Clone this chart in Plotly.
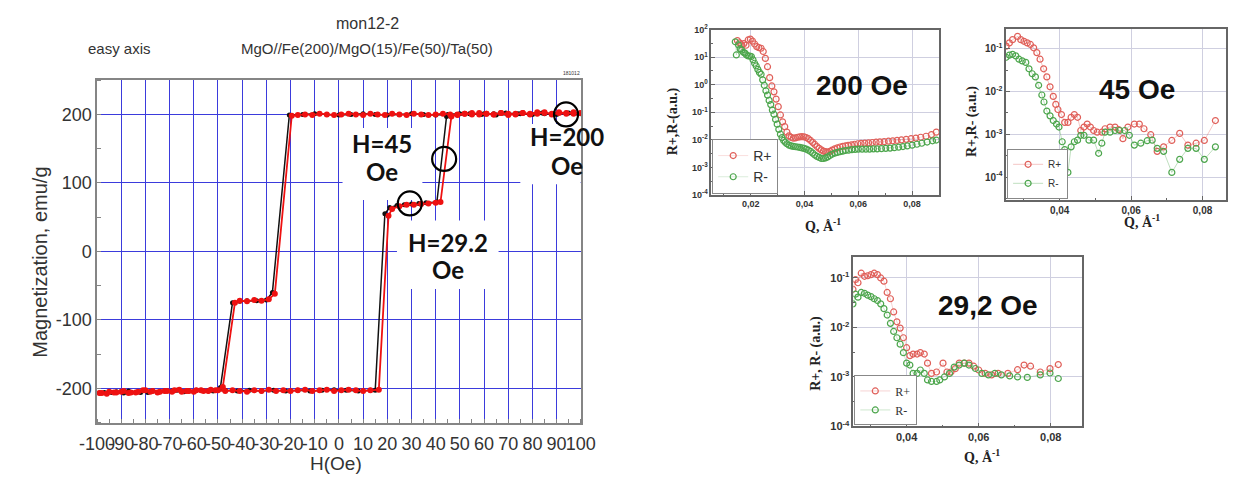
import plotly.graph_objects as go

# page size and the browser's default 8px body margin
PAGE_W, PAGE_H = 1245, 483
OFF = 8
W, H = PAGE_W - OFF, PAGE_H - OFF

# ---------------- Hysteresis loop data (left panel) ----------------
H_red_down = [100, 97, 94, 91, 88, 85, 82, 79, 76, 73, 70, 67, 64, 61, 58, 55, 52, 49, 46, 43,
              40, 37, 34, 31, 28, 25, 22, 19, 16, 13, 10, 7, 4, 1, -2, -5, -8, -11, -14, -17,
              -19.5, -26.5, -29, -32, -35, -38, -41, -43, -48, -51, -54, -57, -60, -63, -66, -69,
              -72, -75, -78, -81, -84, -87, -90, -93, -96, -99]
M_red_down = [202, 203, 201, 202, 200, 203, 201, 200, 202, 201, 199, 202, 200, 201, 200, 202, 201, 199, 200, 201,
              200, 199, 200, 201, 199, 200, 201, 199, 200, 201, 199, 200, 201, 200, 199, 200, 201, 199, 200, 199,
              198, -62, -70, -72, -71, -73, -72, -75, -198, -203, -204, -203, -205, -204, -202, -205,
              -204, -206, -205, -203, -206, -207, -205, -206, -208, -207]
H_red_up = [-98, -95, -92, -89, -86, -83, -80, -77, -74, -71, -68, -65, -62, -59, -56, -53, -50, -47, -44, -41,
            -38, -35, -32, -29, -26, -23, -20, -17, -14, -11, -8, -5, -2, 1, 4, 7, 10, 13, 16.5, 20.5,
            22, 25, 28, 31, 34, 37, 40, 42, 46.5, 49, 52, 55, 58, 61, 64, 67, 70, 73, 76, 79,
            82, 85, 88, 91, 94, 97, 100]
M_red_up = [-207, -205, -206, -204, -206, -205, -203, -204, -205, -204, -203, -205, -204, -203, -204, -202, -203, -204, -203, -204,
            -205, -203, -204, -202, -204, -203, -204, -203, -202, -204, -203, -202, -204, -203, -202, -203, -204, -203, -202, 52,
            62, 66, 68, 68, 69, 70, 71, 72, 197, 200, 201, 200, 202, 201, 200, 202, 201, 200, 202, 201,
            203, 202, 201, 203, 202, 201, 202]

H_blk_down = [100, 95, 90, 85, 80, 75, 70, 65, 60, 55, 50, 45, 40, 35, 30, 25, 20, 15, 10, 5, 0, -5, -10, -15,
              -20.5, -27.5, -30, -34, -38, -41, -44, -49, -54, -59, -64, -69, -74, -79, -84, -89, -94, -99]
M_blk_down = [201, 202, 200, 201, 200, 201, 200, 199, 201, 200, 201, 200, 199, 200, 201, 200, 199, 200, 201, 200, 199, 200, 201, 200,
              199, -60, -71, -72, -72, -73, -75, -199, -204, -203, -205, -204, -205, -206, -206, -207, -206, -207]
H_blk_up = [-97, -92, -87, -82, -77, -72, -67, -62, -57, -52, -47, -42, -37, -32, -27, -22, -17, -12, -7, -2, 3, 8, 13, 15,
            19, 21, 24, 27, 30, 33, 36, 40.5, 44.5, 49, 54, 59, 64, 69, 74, 79, 84, 89, 94, 99]
M_blk_up = [-206, -205, -204, -206, -204, -204, -203, -204, -203, -204, -203, -204, -203, -204, -203, -204, -203, -204, -203, -202, -203, -204, -203, -203,
            55, 64, 67, 68, 69, 70, 71, 72, 197, 200, 201, 200, 201, 202, 201, 200, 202, 201, 202, 201]

circle_H = [29.3, 43.5, 93.9]
circle_M = [70, 135, 200]

H_ticks = [-100, -90, -80, -70, -60, -50, -40, -30, -20, -10, 0, 10, 20, 30, 40, 50, 60, 70, 80, 90, 100]
M_ticks = [-200, -100, 0, 100, 200]

# ---------------- Reflectivity data ----------------
# 200 Oe
q200_p = [0.0150, 0.0158, 0.0166, 0.0174, 0.0182, 0.0190, 0.0198, 0.0206, 0.0214, 0.0222, 0.0230, 0.0238,
          0.0246, 0.0254, 0.0262, 0.0270, 0.0278, 0.0286, 0.0294, 0.0302, 0.0310, 0.0318, 0.0326, 0.0334,
          0.0342, 0.0350, 0.0358, 0.0366, 0.0374, 0.0382, 0.0390, 0.0398, 0.0406, 0.0414, 0.0422, 0.0430,
          0.0438, 0.0446, 0.0454, 0.0462, 0.0470, 0.0478, 0.0486, 0.0494, 0.0502, 0.0512, 0.0522, 0.0532,
          0.0542, 0.0552, 0.0562, 0.0574, 0.0586, 0.0598, 0.0610, 0.0624, 0.0638, 0.0652, 0.0666, 0.0680,
          0.0696, 0.0712, 0.0728, 0.0744, 0.0760, 0.0778, 0.0796, 0.0814, 0.0832, 0.0852, 0.0872, 0.0890]
r200_p = [40, 33, 28, 31, 27, 42, 45, 38, 30, 24, 22, 21,
          16, 9, 4.5, 1.8, 0.9, 0.55, 0.3, 0.16, 0.08, 0.045, 0.03, 0.019,
          0.014, 0.0122, 0.0115, 0.0118, 0.0124, 0.0128, 0.013, 0.0128, 0.0121, 0.011, 0.0095, 0.0081,
          0.0068, 0.0057, 0.0049, 0.0043, 0.0039, 0.0037, 0.0036, 0.0038, 0.0042, 0.0047, 0.0051, 0.0055,
          0.0058, 0.006, 0.0063, 0.0066, 0.0069, 0.0072, 0.0074, 0.0076, 0.0078, 0.008, 0.0082, 0.0084,
          0.0086, 0.0089, 0.0092, 0.0095, 0.0099, 0.0104, 0.011, 0.0116, 0.0124, 0.0135, 0.0155, 0.019]
q200_m = [0.0142, 0.0146, 0.0154, 0.0160, 0.0166, 0.0172, 0.0178, 0.0184, 0.0190, 0.0196, 0.0202, 0.0208,
          0.0214, 0.0220, 0.0226, 0.0232, 0.0238, 0.0244, 0.0250, 0.0256, 0.0262, 0.0268, 0.0274, 0.0280,
          0.0286, 0.0292, 0.0298, 0.0304, 0.0310, 0.0316, 0.0322, 0.0328, 0.0334, 0.0342, 0.0350, 0.0358,
          0.0366, 0.0374, 0.0382, 0.0390, 0.0398, 0.0406, 0.0414, 0.0422, 0.0430, 0.0438, 0.0446, 0.0454,
          0.0462, 0.0470, 0.0478, 0.0486, 0.0494, 0.0502, 0.0512, 0.0522, 0.0532, 0.0542, 0.0552, 0.0564,
          0.0576, 0.0588, 0.0600, 0.0614, 0.0628, 0.0642, 0.0656, 0.0670, 0.0686, 0.0702, 0.0718, 0.0734,
          0.0750, 0.0766, 0.0782, 0.0800, 0.0818, 0.0836, 0.0856, 0.0876, 0.0890]
r200_m = [36, 12, 28, 20, 18, 15, 14, 12, 11, 11, 10.5, 8,
          6, 4.8, 3.6, 2.8, 2.4, 1.5, 0.95, 0.6, 0.42, 0.27, 0.19, 0.12,
          0.085, 0.055, 0.037, 0.024, 0.016, 0.012, 0.0095, 0.0082, 0.0072, 0.0064, 0.006, 0.0058,
          0.0056, 0.0055, 0.0053, 0.0051, 0.0049, 0.0046, 0.0042, 0.0038, 0.0033, 0.0028, 0.0025, 0.0023,
          0.0021, 0.0021, 0.0022, 0.0024, 0.0027, 0.003, 0.0033, 0.0035, 0.0037, 0.0039, 0.0041, 0.0042,
          0.0044, 0.0045, 0.0046, 0.0046, 0.0046, 0.0046, 0.0047, 0.0047, 0.0048, 0.0049, 0.005, 0.0052,
          0.0054, 0.0057, 0.006, 0.0064, 0.0069, 0.0075, 0.0083, 0.0092, 0.0098]

# 45 Oe
q45_p = [0.0250, 0.0259, 0.0268, 0.0282, 0.0291, 0.0300, 0.0309, 0.0318, 0.0327, 0.0336, 0.0345, 0.0355,
         0.0364, 0.0373, 0.0382, 0.0389, 0.0395, 0.0405, 0.0414, 0.0423, 0.0432, 0.0441, 0.0450, 0.0459,
         0.0468, 0.0477, 0.0486, 0.0495, 0.0505, 0.0518, 0.0527, 0.0541, 0.0555, 0.0565, 0.0577, 0.0591,
         0.0609, 0.0623, 0.0636, 0.0655, 0.0673, 0.0691, 0.0714, 0.0736, 0.0759, 0.0782, 0.0805, 0.0836]
r45_p = [0.115, 0.137, 0.163, 0.194, 0.163, 0.149, 0.137, 0.126, 0.105, 0.081, 0.057, 0.034,
         0.022, 0.0129, 0.0077, 0.005, 0.0038, 0.0029, 0.0019, 0.0019, 0.0025, 0.0029, 0.0025, 0.00123,
         0.00148, 0.00174, 0.00148, 0.00123, 0.00112, 0.00112, 0.00135, 0.00148, 0.00148, 0.00129, 0.00079, 0.00148,
         0.00174, 0.00174, 0.00135, 0.00098, 0.0004, 0.00051, 0.00072, 0.00105, 0.00056, 0.00062, 0.00072, 0.0021]
q45_m = [0.0250, 0.0259, 0.0268, 0.0277, 0.0286, 0.0295, 0.0305, 0.0314, 0.0323, 0.0332, 0.0341, 0.0350,
         0.0356, 0.0364, 0.0373, 0.0382, 0.0391, 0.0398, 0.0407, 0.0414, 0.0423, 0.0432, 0.0441, 0.0450,
         0.0459, 0.0468, 0.0482, 0.0495, 0.0509, 0.0518, 0.0527, 0.0541, 0.0555, 0.0568, 0.0582, 0.0595,
         0.0609, 0.0627, 0.0645, 0.0659, 0.0673, 0.0691, 0.0714, 0.0736, 0.0759, 0.0782, 0.0805, 0.0836]
r45_m = [0.063, 0.071, 0.074, 0.068, 0.057, 0.052, 0.048, 0.034, 0.026, 0.022, 0.014, 0.0083,
         0.0057, 0.0035, 0.0027, 0.0021, 0.00174, 0.00148, 0.00067, 0.00044, 0.000129, 0.00051, 0.00067, 0.00073,
         0.00095, 0.00095, 0.00073, 0.00073, 0.00036, 0.00062, 0.00112, 0.00112, 0.00123, 0.00123, 0.00123, 0.00095,
         0.00056, 0.00062, 0.00071, 0.00073, 0.00047, 0.0004, 0.000129, 0.00026, 0.00047, 0.00047, 0.00026, 0.00051]

# 29,2 Oe
q29_p = [0.0251, 0.0258, 0.0265, 0.0274, 0.0283, 0.0292, 0.0301, 0.0310, 0.0319, 0.0328, 0.0337, 0.0346,
         0.0355, 0.0364, 0.0373, 0.0382, 0.0391, 0.0400, 0.0409, 0.0418, 0.0429, 0.0438, 0.0449, 0.0458,
         0.0469, 0.0483, 0.0501, 0.0512, 0.0523, 0.0535, 0.0546, 0.0560, 0.0573, 0.0586, 0.0600, 0.0618,
         0.0636, 0.0654, 0.0681, 0.0708, 0.0726, 0.0744, 0.0771, 0.0798, 0.0821]
r29_p = [0.059, 0.093, 0.080, 0.125, 0.108, 0.111, 0.117, 0.125, 0.117, 0.100, 0.086, 0.051,
         0.038, 0.0206, 0.013, 0.0097, 0.0062, 0.0039, 0.0027, 0.0029, 0.0029, 0.0031, 0.0029, 0.0019,
         0.00118, 0.00126, 0.0019, 0.00126, 0.00126, 0.00147, 0.0019, 0.0019, 0.0019, 0.00165, 0.00138, 0.00118,
         0.0011, 0.00118, 0.00118, 0.0014, 0.00174, 0.00165, 0.00126, 0.00147, 0.00178]
q29_m = [0.0251, 0.0258, 0.0265, 0.0274, 0.0283, 0.0292, 0.0301, 0.0310, 0.0319, 0.0328, 0.0337, 0.0346,
         0.0355, 0.0364, 0.0373, 0.0382, 0.0391, 0.0400, 0.0409, 0.0418, 0.0429, 0.0438, 0.0449, 0.0458,
         0.0469, 0.0483, 0.0492, 0.0505, 0.0519, 0.0532, 0.0546, 0.0560, 0.0573, 0.0591, 0.0609, 0.0627,
         0.0645, 0.0663, 0.0686, 0.0708, 0.0735, 0.0771, 0.0798, 0.0821]
r29_m = [0.030, 0.047, 0.041, 0.051, 0.049, 0.045, 0.042, 0.038, 0.035, 0.030, 0.024, 0.0178,
         0.0121, 0.0083, 0.0062, 0.0046, 0.0031, 0.0019, 0.00174, 0.00118, 0.00118, 0.00138, 0.00118, 0.00087,
         0.00081, 0.00081, 0.00087, 0.0010, 0.00118, 0.00158, 0.00174, 0.0019, 0.00174, 0.00148, 0.00118, 0.0011,
         0.00118, 0.0011, 0.00105, 0.0010, 0.00098, 0.0011, 0.0012, 0.00093]

# ---------------- Figure ----------------
def px(x):
    return (x - OFF) / W

def py(y):
    return 1 - (y - OFF) / H

fig = go.Figure()

# left panel
fig.add_trace(go.Scatter(x=H_blk_down + H_blk_up, y=M_blk_down + M_blk_up, mode="lines+markers",
                         line=dict(color="#111111", width=1.5), marker=dict(color="#111111", size=5),
                         showlegend=False, xaxis="x", yaxis="y"))
fig.add_trace(go.Scatter(x=H_red_down + H_red_up, y=M_red_down + M_red_up, mode="lines+markers",
                         line=dict(color="#ee1111", width=1.8), marker=dict(color="#ee1111", size=6),
                         showlegend=False, xaxis="x", yaxis="y"))
fig.add_trace(go.Scatter(x=circle_H, y=circle_M, mode="markers",
                         marker=dict(symbol="circle-open", size=24, color="black", line=dict(width=2.2)),
                         showlegend=False, xaxis="x", yaxis="y"))

RED = "#e0605a"
GRN = "#4da64d"

def add_refl(q_p, r_p, q_m, r_m, ax, leg, msize, lcol_p, lcol_m):
    fig.add_trace(go.Scatter(x=q_p, y=r_p, mode="lines+markers", name="R+",
                             line=dict(color=lcol_p, width=0.8),
                             marker=dict(symbol="circle-open", size=msize, color=RED, line=dict(width=1.2)),
                             xaxis="x" + ax, yaxis="y" + ax, legend=leg))
    fig.add_trace(go.Scatter(x=q_m, y=r_m, mode="lines+markers", name="R-",
                             line=dict(color=lcol_m, width=0.8),
                             marker=dict(symbol="circle-open", size=msize, color=GRN, line=dict(width=1.2)),
                             xaxis="x" + ax, yaxis="y" + ax, legend=leg))

add_refl(q200_p, r200_p, q200_m, r200_m, "2", "legend", 6, "rgba(224,96,90,0.25)", "rgba(77,166,77,0.25)")
add_refl(q45_p, r45_p, q45_m, r45_m, "3", "legend2", 6, "rgba(224,96,90,0.45)", "rgba(77,166,77,0.45)")
add_refl(q29_p, r29_p, q29_m, r29_m, "4", "legend3", 6, "rgba(224,96,90,0.35)", "rgba(77,166,77,0.35)")

SANS = "Liberation Sans, Arial, sans-serif"
SERIF = "Liberation Serif, Times New Roman, serif"

# left axes (ASCII hyphen minus signs as in the original)
fig.update_layout(
    xaxis=dict(domain=[px(81), px(578)], range=[-100, 100], tickvals=H_ticks,
               ticktext=[str(v) for v in H_ticks], tickangle=0,
               showgrid=True, gridcolor="#3b3bdc", gridwidth=1, zeroline=False,
               showline=True, linecolor="#858585", linewidth=1.5, mirror=True,
               ticks="", ticklabelstandoff=4, tickfont=dict(family=SANS, size=18, color="#333"),
               minor=dict(dtick=5, ticks="inside", ticklen=4, tickcolor="#858585", showgrid=False),
               anchor="y"),
    yaxis=dict(domain=[py(427), py(75)], range=[-250, 250], tickvals=M_ticks,
               ticktext=[str(v) for v in M_ticks],
               showgrid=True, gridcolor="#3b3bdc", gridwidth=1, zeroline=False,
               showline=True, linecolor="#858585", linewidth=1.5, mirror=True,
               ticks="", tickfont=dict(family=SANS, size=18, color="#333"),
               minor=dict(dtick=50, ticks="inside", ticklen=4, tickcolor="#858585", showgrid=False),
               anchor="x"),
)

def log_axes(n, xdom, ydom, xr, yr, yvals, tick_size):
    sup = {2: "2", 1: "1", 0: "0", -1: "-1", -2: "-2", -3: "-3", -4: "-4"}
    ytext = ["<b>10<sup>%s</sup></b>" % sup[v] for v in yvals]
    ytv = [10.0 ** v for v in yvals]
    minor_vals = [10.0 ** (v + 0.5) for v in range(-5, 3)]
    xa = dict(domain=xdom, range=xr, tickvals=[0.02, 0.04, 0.06, 0.08], tickangle=0,
              ticktext=["<b>0,02</b>", "<b>0,04</b>", "<b>0,06</b>", "<b>0,08</b>"],
              showgrid=True, gridcolor="#cfcfe0", gridwidth=1, zeroline=False,
              showline=True, linecolor="#666", linewidth=1.5, mirror=True,
              ticks="inside", ticklen=4, tickcolor="#666",
              tickfont=dict(family=SANS, size=tick_size, color="#333"),
              minor=dict(tickvals=[0.01, 0.03, 0.05, 0.07, 0.09], ticks="inside", ticklen=2, tickcolor="#666"),
              anchor="y" + n)
    ya = dict(domain=ydom, type="log", range=yr, tickvals=ytv, ticktext=ytext,
              showgrid=True, gridcolor="#cfcfe0", gridwidth=1, zeroline=False,
              showline=True, linecolor="#666", linewidth=1.5, mirror=True,
              ticks="inside", ticklen=4, tickcolor="#666",
              tickfont=dict(family=SANS, size=tick_size, color="#333"),
              minor=dict(tickvals=minor_vals, ticks="inside", ticklen=2, tickcolor="#666"),
              anchor="x" + n)
    fig.update_layout(**{"xaxis" + n: xa, "yaxis" + n: ya})

log_axes("2", [px(712), px(946)], [py(193), py(23)], [0.00525, 0.090], [-4, 2], [2, 1, 0, -1, -2, -3, -4], 9)
log_axes("3", [px(1015), px(1241)], [py(198), py(22)], [0.025, 0.0866], [-4.53, -0.53], [-1, -2, -3, -4], 10)
log_axes("4", [px(858), px(1093)], [py(431), py(257)], [0.0252, 0.0887], [-4.0, -0.58], [-1, -2, -3, -4], 11)

fig.update_layout(
    legend=dict(x=px(713), y=py(192), xanchor="left", yanchor="bottom", bgcolor="white",
                bordercolor="#888", borderwidth=1, font=dict(family=SANS, size=14, color="#333"),
                itemwidth=30, tracegroupgap=0),
    legend2=dict(x=px(1016), y=py(197), xanchor="left", yanchor="bottom", bgcolor="white",
                 bordercolor="#888", borderwidth=1, font=dict(family=SANS, size=10, color="#333"),
                 itemwidth=30, tracegroupgap=0),
    legend3=dict(x=px(859), y=py(430), xanchor="left", yanchor="bottom", bgcolor="white",
                 bordercolor="#888", borderwidth=1, font=dict(family=SERIF, size=12, color="#333"),
                 itemwidth=30, tracegroupgap=0),
)

# white boxes breaking the grid around the labels
boxes = [(1.5, 34.5, 75, 180), (24, 66, -55, 45), (75, 100, 98, 186)]
shapes = []
for x0, x1, y0, y1 in boxes:
    shapes.append(dict(type="rect", xref="x", yref="y", x0=x0, x1=x1, y0=y0, y1=y1,
                       fillcolor="white", line=dict(width=0), layer="between"))
fig.update_layout(shapes=shapes)

ann = []
def A(text, x, y, size, family=SANS, color="#333", angle=0, xref="paper", yref="paper", **kw):
    ann.append(dict(text=text, x=x, y=y, xref=xref, yref=yref, showarrow=False, textangle=angle,
                    font=dict(family=family, size=size, color=color), xanchor="center", yanchor="middle", **kw))

# left panel texts
A("mon12-2", px(359), py(17), 16)
A("easy axis", px(104), py(42), 15)
A("MgO//Fe(200)/MgO(15)/Fe(50)/Ta(50)", px(358), py(42), 15)
A("181012", px(568), py(68), 5)
A("Magnetization, emu/g", px(22), py(262), 20, angle=-90)
A("H(Oe)", px(327), py(469), 19)

BF = "Lato, Open Sans, sans-serif"
A("<b>H=45</b>", 17.7, 158, 24, family=BF, color="#111", xref="x", yref="y")
A("<b>Oe</b>", 17.7, 116, 24, family=BF, color="#111", xref="x", yref="y")
A("<b>H=29.2</b>", 45, 13, 24, family=BF, color="#111", xref="x", yref="y")
A("<b>Oe</b>", 45, -27, 24, family=BF, color="#111", xref="x", yref="y")
A("<b>H=200</b>", 94.5, 168, 24, family=BF, color="#111", xref="x", yref="y")
A("<b>Oe</b>", 94.5, 126, 24, family=BF, color="#111", xref="x", yref="y")

# right panels
A("<b>200 Oe</b>", px(867), py(80), 28, color="#111")
A("<b>45 Oe</b>", px(1149), py(85), 28, color="#111")
A("<b>29,2 Oe</b>", px(996), py(307), 28, color="#111")

A("<b>R+,R-(a.u.)</b>", px(673), py(117), 14, family=SERIF, color="#222", angle=-90)
A("<b>Q, Å<sup>-1</sup></b>", px(827), py(224), 14, family=SERIF, color="#222")
A("<b>R+,R- (a.u.)</b>", px(980), py(118), 14, family=SERIF, color="#222", angle=-90)
A("<b>Q, Å<sup>-1</sup></b>", px(1155), py(220), 14, family=SERIF, color="#222")
A("<b>R+, R- (a.u.)</b>", px(820), py(356), 14, family=SERIF, color="#222", angle=-90)
A("<b>Q, Å<sup>-1</sup></b>", px(990), py(461), 14, family=SERIF, color="#222")

fig.update_layout(annotations=ann, width=W, height=H, margin=dict(l=0, r=0, t=0, b=0),
                  paper_bgcolor="white", plot_bgcolor="white", autosize=False)

fig.write_html("out.html")
